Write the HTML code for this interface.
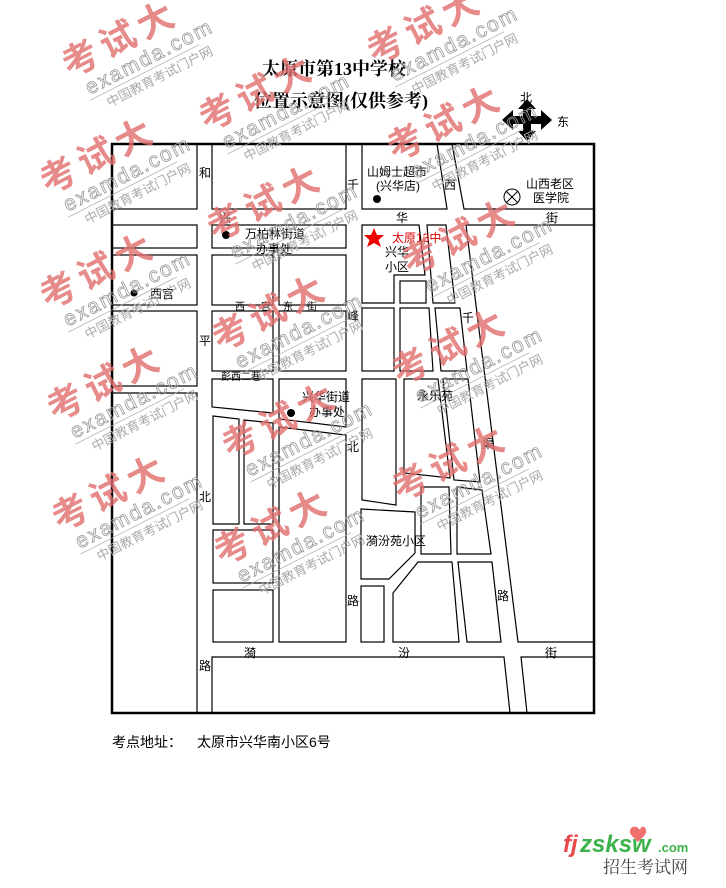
<!DOCTYPE html>
<html><head><meta charset="utf-8"><style>
html,body{margin:0;padding:0;background:#fff;}
svg{display:block;}
text{font-family:"Liberation Sans","Noto Sans CJK SC",sans-serif;}
.l{font-size:12px;fill:#000;}
.wm1{font-size:36px;font-weight:bold;fill:#e06e6e;letter-spacing:6px;opacity:.8;font-family:"Noto Sans CJK SC",sans-serif;}
.wm2{font-size:21px;fill:none;stroke:#999;stroke-width:.8;letter-spacing:2px;}
.wm3{font-size:13px;fill:#aaa;}
</style></head><body>
<svg width="726" height="888" viewBox="0 0 726 888" xmlns="http://www.w3.org/2000/svg">
<g fill="none" stroke="#000" stroke-width="1.2">
<rect x="112" y="144" width="85" height="65"/>
<rect x="112" y="225" width="85" height="23"/>
<rect x="112" y="255" width="85" height="50"/>
<rect x="112" y="311" width="85" height="75"/>
<path d="M112 393 H197 V713"/>
<rect x="212" y="144" width="134" height="65"/>
<rect x="212" y="225" width="134" height="23"/>
<rect x="212" y="255" width="61" height="50"/>
<rect x="279" y="255" width="67" height="50"/>
<rect x="212" y="311" width="61" height="60"/>
<rect x="279" y="311" width="67" height="60"/>
<path d="M212 379 H273 V413 L212 407 Z"/>
<path d="M279 379 H346 V427 L279 419 Z"/>
<path d="M213 416 L239 419 V524 H213 Z"/>
<path d="M244 420 L273 423 V524 H244 Z"/>
<path d="M279 427 L346 435 V642 H279 Z"/>
<rect x="213" y="530" width="60" height="53"/>
<rect x="213" y="590" width="60" height="52"/>
<path d="M212 713 V657 H504 L510 713"/>
<path d="M594 657 H521 L527 713"/>
<path d="M362 144 V209 H447 L437 144"/>
<path d="M452 144 L464 209 H594"/>
<path d="M362 225 H419 L425 275 H394 V303 H362 Z"/>
<rect x="400" y="281" width="26" height="22"/>
<path d="M427 225 H446 L455 303 H433 Z"/>
<path d="M466 225 H594 V642 H518 Z"/>
<rect x="362" y="308" width="32" height="63"/>
<path d="M400 308 H429 L433 371 H400 Z"/>
<path d="M435 308 H460 L467 371 H441 Z"/>
<path d="M362 379 H396 V505 L362 500 Z"/>
<path d="M404 379 H438 L450 478 L404 473 Z"/>
<path d="M443 379 H468 L480 482 L454 480 Z"/>
<path d="M421 487 H449 L451 554 H421 Z"/>
<path d="M457 487 L482 490 L491 554 H457 Z"/>
<path d="M361 509 L415 512 V553 L389 579 H361 Z"/>
<rect x="361" y="586" width="23" height="56"/>
<path d="M393 593 L418 562 H452 L459 642 H393 Z"/>
<path d="M458 562 H492 L501 642 H467 Z"/>
</g>
<rect x="112" y="144" width="482" height="569" fill="none" stroke="#000" stroke-width="2.5"/>

<circle cx="226" cy="235" r="4" fill="#000"/>
<circle cx="134" cy="293" r="3.5" fill="#000"/>
<circle cx="291" cy="413" r="4" fill="#000"/>
<circle cx="377" cy="199" r="4" fill="#000"/>
<circle cx="512" cy="197" r="8" fill="none" stroke="#000"/>
<path d="M506 191 L518 203 M518 191 L506 203" stroke="#000"/>
<polygon points="374,228 377,235 384,235 378.5,240 381,247 374,243 367,247 369.5,240 364,235 371,235" fill="#e00"/>

<g class="l">
<text x="199" y="177">和</text><text x="199" y="345">平</text><text x="199" y="501">北</text><text x="199" y="670">路</text>
<text x="219" y="222">兴</text><text x="396" y="222">华</text><text x="546" y="222">街</text>
<text x="347" y="189">千</text><text x="347" y="320">峰</text><text x="347" y="451">北</text><text x="347" y="605">路</text>
<text x="444" y="189">西</text>
<text x="367" y="176">山姆士超市</text><text x="376" y="190">(兴华店)</text>
<text x="526" y="188">山西老区</text><text x="533" y="202">医学院</text>
<text x="245" y="238">万柏林街道</text><text x="256" y="253">办事处</text>
<text x="150" y="298">西宫</text>
<text x="235" y="310" style="font-size:10px">西</text><text x="261" y="310" style="font-size:10px">宫</text><text x="283" y="310" style="font-size:10px">东</text><text x="307" y="310" style="font-size:10px">街</text>
<text x="221" y="380" style="font-size:10px">彭西二巷</text>
<text x="302" y="401">兴华街道</text><text x="309" y="416">办事处</text>
<text x="392" y="242" style="fill:#d00">太原13中</text>
<text x="385" y="256">兴华</text><text x="385" y="271">小区</text>
<text x="462" y="322">千</text><text x="482" y="448">渠</text><text x="497" y="600">路</text>
<text x="417" y="400">永乐苑</text>
<text x="366" y="545">漪汾苑小区</text>
<text x="244" y="657">漪</text><text x="398" y="657">汾</text><text x="545" y="657">街</text>
</g>

<polygon points="502,120 513,110 513,116 523,116 523,109 518,109 527,99 536,109 531,109 531,116 541,116 541,110 552,120 541,130 541,124 531,124 531,131 536,131 527,141 518,131 523,131 523,124 513,124 513,130" fill="#000"/>
<text x="520" y="102" class="l">北</text><text x="557" y="126" class="l">东</text>

<text x="262" y="75" style="font-size:18px;font-weight:bold;font-family:'Liberation Serif','Noto Serif CJK SC',serif">太原市第13中学校</text>
<text x="254" y="107" style="font-size:18px;font-weight:bold;font-family:'Liberation Serif','Noto Serif CJK SC',serif">位置示意图(仅供参考)</text>
<text x="112" y="747" style="font-size:14px">考点地址：</text>
<text x="197" y="747" style="font-size:14px">太原市兴华南小区6号</text>

<text x="563" y="852" style="font-size:24px;font-weight:bold;font-style:italic;fill:#e84a4a">fj</text>
<text x="580" y="852" style="font-size:24px;font-weight:bold;font-style:italic;fill:#3cb34a">zsksw</text>
<text x="658" y="852" style="font-size:13px;font-weight:bold;fill:#3cb34a">.com</text>
<path d="M640 830 c-6-8 -14 0 -8 6 l6 6 l6-6 c6-6 -2-14 -4-6z" fill="#f07070"/>
<text x="603" y="873" style="font-size:17px;fill:#444;font-family:'Noto Serif CJK SC',serif">招生考试网</text>

<g>
<g transform="translate(70,78) rotate(-27)"><text class="wm1">考试大</text><text x="10" y="24" class="wm2">examda.com</text><line x1="8" y1="29" x2="130" y2="29" stroke="#aaa" stroke-width=".7"/><text x="22" y="44" class="wm3">中国教育考试门户网</text></g>
<g transform="translate(375,65) rotate(-27)"><text class="wm1">考试大</text><text x="10" y="24" class="wm2">examda.com</text><line x1="8" y1="29" x2="130" y2="29" stroke="#aaa" stroke-width=".7"/><text x="22" y="44" class="wm3">中国教育考试门户网</text></g>
<g transform="translate(207,132) rotate(-27)"><text class="wm1">考试大</text><text x="10" y="24" class="wm2">examda.com</text><line x1="8" y1="29" x2="130" y2="29" stroke="#aaa" stroke-width=".7"/><text x="22" y="44" class="wm3">中国教育考试门户网</text></g>
<g transform="translate(395,162) rotate(-27)"><text class="wm1">考试大</text><text x="10" y="24" class="wm2">examda.com</text><line x1="8" y1="29" x2="130" y2="29" stroke="#aaa" stroke-width=".7"/><text x="22" y="44" class="wm3">中国教育考试门户网</text></g>
<g transform="translate(48,195) rotate(-27)"><text class="wm1">考试大</text><text x="10" y="24" class="wm2">examda.com</text><line x1="8" y1="29" x2="130" y2="29" stroke="#aaa" stroke-width=".7"/><text x="22" y="44" class="wm3">中国教育考试门户网</text></g>
<g transform="translate(215,242) rotate(-27)"><text class="wm1">考试大</text><text x="10" y="24" class="wm2">examda.com</text><line x1="8" y1="29" x2="130" y2="29" stroke="#aaa" stroke-width=".7"/><text x="22" y="44" class="wm3">中国教育考试门户网</text></g>
<g transform="translate(410,276) rotate(-27)"><text class="wm1">考试大</text><text x="10" y="24" class="wm2">examda.com</text><line x1="8" y1="29" x2="130" y2="29" stroke="#aaa" stroke-width=".7"/><text x="22" y="44" class="wm3">中国教育考试门户网</text></g>
<g transform="translate(48,310) rotate(-27)"><text class="wm1">考试大</text><text x="10" y="24" class="wm2">examda.com</text><line x1="8" y1="29" x2="130" y2="29" stroke="#aaa" stroke-width=".7"/><text x="22" y="44" class="wm3">中国教育考试门户网</text></g>
<g transform="translate(220,352) rotate(-27)"><text class="wm1">考试大</text><text x="10" y="24" class="wm2">examda.com</text><line x1="8" y1="29" x2="130" y2="29" stroke="#aaa" stroke-width=".7"/><text x="22" y="44" class="wm3">中国教育考试门户网</text></g>
<g transform="translate(400,386) rotate(-27)"><text class="wm1">考试大</text><text x="10" y="24" class="wm2">examda.com</text><line x1="8" y1="29" x2="130" y2="29" stroke="#aaa" stroke-width=".7"/><text x="22" y="44" class="wm3">中国教育考试门户网</text></g>
<g transform="translate(55,422) rotate(-27)"><text class="wm1">考试大</text><text x="10" y="24" class="wm2">examda.com</text><line x1="8" y1="29" x2="130" y2="29" stroke="#aaa" stroke-width=".7"/><text x="22" y="44" class="wm3">中国教育考试门户网</text></g>
<g transform="translate(230,460) rotate(-27)"><text class="wm1">考试大</text><text x="10" y="24" class="wm2">examda.com</text><line x1="8" y1="29" x2="130" y2="29" stroke="#aaa" stroke-width=".7"/><text x="22" y="44" class="wm3">中国教育考试门户网</text></g>
<g transform="translate(400,502) rotate(-27)"><text class="wm1">考试大</text><text x="10" y="24" class="wm2">examda.com</text><line x1="8" y1="29" x2="130" y2="29" stroke="#aaa" stroke-width=".7"/><text x="22" y="44" class="wm3">中国教育考试门户网</text></g>
<g transform="translate(60,532) rotate(-27)"><text class="wm1">考试大</text><text x="10" y="24" class="wm2">examda.com</text><line x1="8" y1="29" x2="130" y2="29" stroke="#aaa" stroke-width=".7"/><text x="22" y="44" class="wm3">中国教育考试门户网</text></g>
<g transform="translate(222,566) rotate(-27)"><text class="wm1">考试大</text><text x="10" y="24" class="wm2">examda.com</text><line x1="8" y1="29" x2="130" y2="29" stroke="#aaa" stroke-width=".7"/><text x="22" y="44" class="wm3">中国教育考试门户网</text></g>
</g>
</svg>
</body></html>
